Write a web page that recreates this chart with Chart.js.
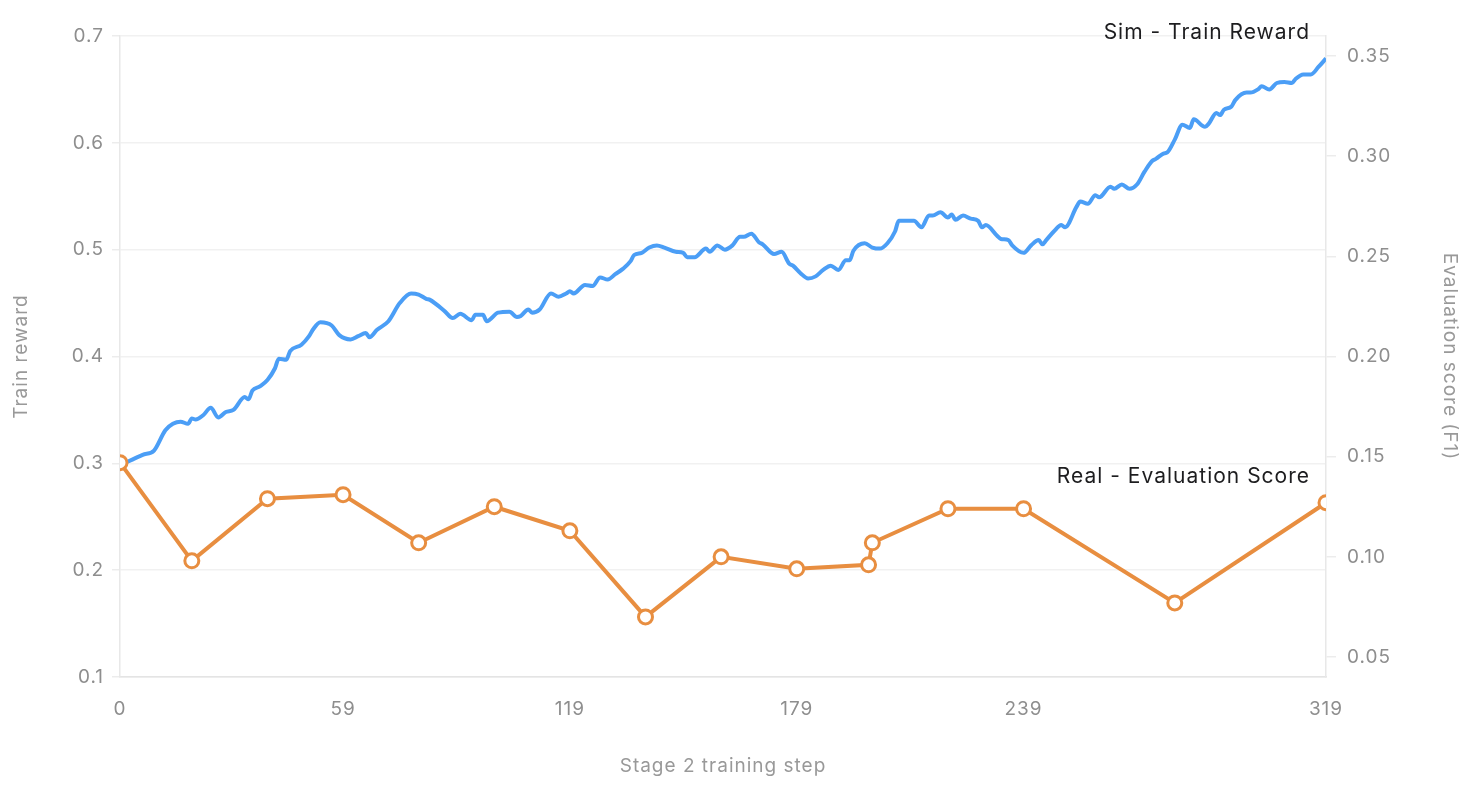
<!DOCTYPE html>
<html>
<head>
<meta charset="utf-8">
<title>Stage 2 training</title>
<script src="https://cdn.jsdelivr.net/npm/chart.js@4.4.1/dist/chart.umd.min.js"></script>
<style>
  html, body { margin: 0; padding: 0; background: #fff; }
  #wrap { width: 1472px; height: 800px; position: relative; }
</style>
</head>
<body>
<div id="wrap"><canvas id="train-chart"></canvas></div>
<script>
// Sim - train reward (left axis)
const simSteps = [
  0, 6, 9, 12, 14, 16, 18, 19, 20, 22, 24, 26, 28, 30, 33, 34, 35, 37, 39, 41,
  42, 44, 45, 48, 50, 51, 53, 56, 58, 61, 63, 65, 66, 68, 71, 74, 77, 79, 81, 82,
  86, 88, 90, 93, 94, 96, 97, 100, 103, 105, 106, 108, 109, 111, 114, 116, 118, 119, 120, 123,
  125, 127, 129, 131, 133, 135, 136, 138, 140, 142, 144, 147, 149, 150, 152, 155, 156, 158, 160, 162,
  164, 165, 167, 169, 170, 173, 175, 177, 178, 180, 182, 184, 186, 188, 190, 192, 193, 194, 197, 199,
  201, 203, 205, 206, 209, 210, 212, 214, 215, 217, 219, 220, 221, 223, 225, 227, 228, 229, 232, 233,
  235, 236, 239, 241, 243, 244, 245, 247, 249, 250, 253, 254, 256, 258, 259, 262, 263, 265, 267, 269,
  271, 273, 274, 276, 277, 279, 281, 283, 284, 287, 288, 290, 291, 292, 294, 295, 298, 299, 301, 302,
  304, 306, 308, 310, 311, 313, 315, 317, 319
];
const simReward = [
  0.298, 0.308, 0.312, 0.331, 0.337, 0.339, 0.337, 0.342, 0.341, 0.345, 0.352, 0.343, 0.348, 0.350, 0.362, 0.360, 0.368, 0.372, 0.378, 0.389,
  0.398, 0.397, 0.405, 0.411, 0.419, 0.425, 0.432, 0.429, 0.420, 0.416, 0.419, 0.422, 0.418, 0.425, 0.433, 0.450, 0.459, 0.458, 0.454, 0.453,
  0.442, 0.436, 0.440, 0.434, 0.439, 0.439, 0.433, 0.441, 0.442, 0.437, 0.438, 0.444, 0.441, 0.444, 0.459, 0.456, 0.459, 0.461, 0.459, 0.467,
  0.466, 0.474, 0.472, 0.477, 0.482, 0.489, 0.495, 0.497, 0.502, 0.504, 0.502, 0.498, 0.497, 0.493, 0.493, 0.501, 0.498, 0.504, 0.500, 0.504,
  0.512, 0.512, 0.515, 0.507, 0.505, 0.496, 0.498, 0.487, 0.485, 0.478, 0.473, 0.475, 0.481, 0.485, 0.481, 0.490, 0.490, 0.499, 0.506, 0.502,
  0.501, 0.506, 0.517, 0.527, 0.527, 0.527, 0.521, 0.532, 0.532, 0.535, 0.530, 0.533, 0.528, 0.532, 0.529, 0.527, 0.521, 0.523, 0.513, 0.510,
  0.509, 0.504, 0.497, 0.504, 0.509, 0.505, 0.509, 0.517, 0.523, 0.521, 0.540, 0.545, 0.543, 0.551, 0.549, 0.559, 0.557, 0.561, 0.557, 0.561,
  0.573, 0.583, 0.585, 0.590, 0.591, 0.603, 0.617, 0.614, 0.622, 0.615, 0.618, 0.628, 0.626, 0.631, 0.634, 0.640, 0.647, 0.647, 0.650, 0.653,
  0.650, 0.656, 0.657, 0.656, 0.660, 0.664, 0.664, 0.671, 0.679
];

// Real - evaluation score (right axis)
const realSteps = [0, 19, 39, 59, 79, 99, 119, 139, 159, 179, 198, 199, 219, 239, 279, 319];
const realScore = [0.147, 0.098, 0.129, 0.131, 0.107, 0.125, 0.113, 0.070, 0.100, 0.094, 0.096, 0.107, 0.124, 0.124, 0.077, 0.127];

// tick labels
const stepTicks = [0, 59, 119, 179, 239, 319];
const rewardTicks = [0.1, 0.2, 0.3, 0.4, 0.5, 0.6, 0.7];
const scoreTicks = [0.05, 0.10, 0.15, 0.20, 0.25, 0.30, 0.35];

const BLUE = "#4b9ef6";
const ORANGE = "#e88e40";
const FONT = "Inter, 'Helvetica Neue', Arial, sans-serif";

// the original font runs a bit wider than Inter, so space the letters out a little
const spacing = {
  id: "spacing",
  beforeDraw(chart) { chart.ctx.letterSpacing = "1px"; },
};

// text next to the last point of each series
const endLabels = {
  id: "endLabels",
  afterDatasetsDraw(chart) {
    const { ctx, chartArea } = chart;
    ctx.save();
    ctx.font = "21px " + FONT;
    ctx.letterSpacing = "1px";
    ctx.fillStyle = "#1d1d1f";
    ctx.textAlign = "right";
    ctx.textBaseline = "middle";
    chart.data.datasets.forEach(function (ds, i) {
      const meta = chart.getDatasetMeta(i);
      const last = meta.data[meta.data.length - 1];
      if (!last) return;
      ctx.fillText(ds.label, chartArea.right - 16, last.y - 26);
    });
    ctx.restore();
  },
};

function fixedTicks(list) {
  return function (scale) {
    scale.ticks = list.map(function (v) { return { value: v }; });
  };
}

new Chart(document.getElementById("train-chart"), {
  type: "line",
  data: {
    datasets: [
      {
        label: "Real - Evaluation Score",
        data: realSteps.map(function (s, i) { return { x: s, y: realScore[i] }; }),
        yAxisID: "yScore",
        borderColor: ORANGE,
        borderWidth: 4,
        pointRadius: 7,
        pointBorderWidth: 3,
        pointBackgroundColor: "#fff",
        pointBorderColor: ORANGE,
        tension: 0,
        order: 0,
      },
      {
        label: "Sim - Train Reward",
        data: simSteps.map(function (s, i) { return { x: s, y: simReward[i] }; }),
        yAxisID: "yReward",
        borderColor: BLUE,
        borderWidth: 4,
        pointRadius: 0,
        cubicInterpolationMode: "monotone",
        order: 1,
      },
    ],
  },
  plugins: [spacing, endLabels],
  options: {
    responsive: true,
    maintainAspectRatio: false,
    animation: false,
    layout: { padding: { top: 36, left: 0, right: 0, bottom: 0 } },
    plugins: {
      legend: { display: false },
      tooltip: { enabled: false },
    },
    scales: {
      x: {
        type: "linear",
        min: 0,
        max: 319,
        afterBuildTicks: fixedTicks(stepTicks),
        afterFit: function (s) { s.height = 123; },
        grid: { display: false },
        border: { display: true, color: "#e4e4e4", width: 1.5 },
        ticks: {
          color: "#8e8e8e",
          font: { family: FONT, size: 19 },
          padding: 13,
          maxRotation: 0,
          callback: function (v) { return String(v); },
        },
        title: {
          display: true,
          text: "Stage 2 training step",
          color: "#999",
          font: { family: FONT, size: 19 },
          padding: { top: 0, bottom: 22 },
        },
      },
      yReward: {
        type: "linear",
        position: "left",
        min: 0.1,
        max: 0.7,
        afterBuildTicks: fixedTicks(rewardTicks),
        afterFit: function (s) { s.width = 120; },
        grid: { color: "#f1f1f1", lineWidth: 1.5, tickLength: 8, tickColor: "#ececec" },
        border: { display: true, color: "#e8e8e8", width: 1.5 },
        ticks: {
          color: "#8e8e8e",
          font: { family: FONT, size: 19 },
          padding: 8,
          callback: function (v) { return v.toFixed(1); },
        },
        title: {
          display: true,
          text: "Train reward",
          color: "#999",
          font: { family: FONT, size: 19 },
          padding: { top: 10, bottom: 0 },
        },
      },
      yScore: {
        type: "linear",
        position: "right",
        min: 0.04,
        max: 0.36,
        afterBuildTicks: fixedTicks(scoreTicks),
        afterFit: function (s) { s.width = 146; },
        grid: { drawOnChartArea: false, tickLength: 10, tickColor: "#ececec", lineWidth: 1.5 },
        border: { display: true, color: "#e8e8e8", width: 1.5 },
        ticks: {
          color: "#8e8e8e",
          font: { family: FONT, size: 19 },
          padding: 11,
          callback: function (v) { return v.toFixed(2); },
        },
        title: {
          display: true,
          text: "Evaluation score (F1)",
          color: "#999",
          font: { family: FONT, size: 19 },
          padding: { top: 11, bottom: 0 },
        },
      },
    },
  },
});
</script>
</body>
</html>
